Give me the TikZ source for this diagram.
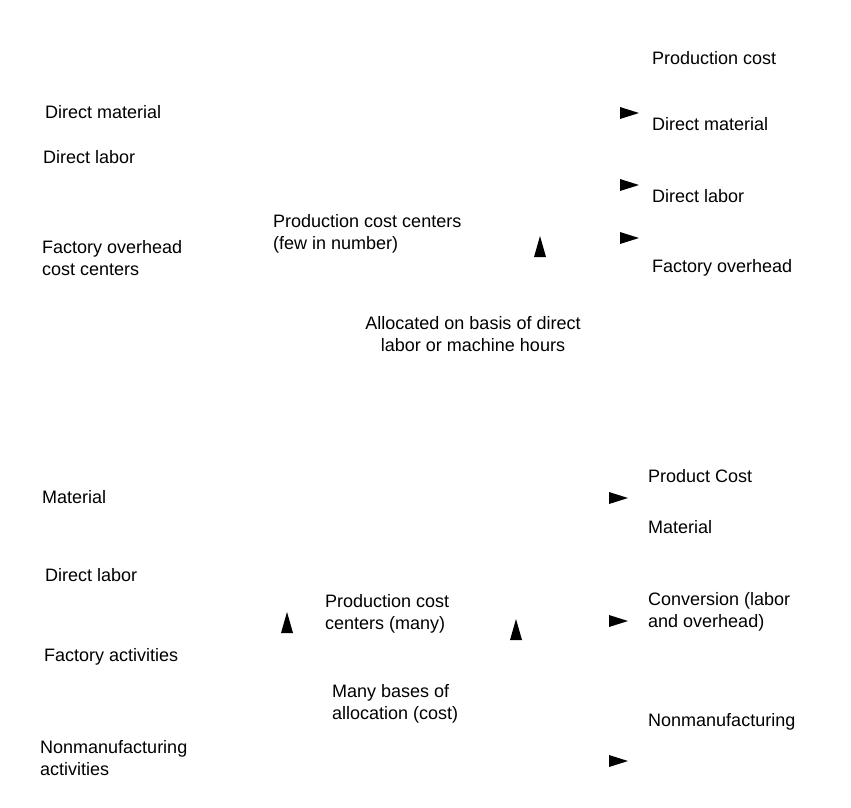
\documentclass[tikz,border=0pt]{standalone}
\usepackage{fontspec}
\setmainfont{Liberation Sans}
\usetikzlibrary{positioning}

\begin{document}
\begin{tikzpicture}
  [x=1pt,y=-1pt,every node/.style={inner sep=0pt,anchor=west,align=left,font=\fontsize{18}{22}\selectfont}]
  \useasboundingbox (0,0) rectangle (851,807);

  % upper chart
  \node (dm) at (45,112) {Direct material};
  \node (dl) at (43,157) {Direct labor};
  \node (fo) at (42,258) {Factory overhead\\cost centers};
  \node (pc) at (273,234) {Production cost centers\\(few in number)};
  \node[anchor=center,align=center] (al) at (473,334) {Allocated on basis of direct\\labor or machine hours};
  \node (pcost) at (652,58) {Production cost};
  \node (pdm) at (652,124) {Direct material};
  \node (pdl) at (652,196) {Direct labor};
  \node (pfo) at (652,268) {Factory overhead};

  % lower chart
  \node (ma) at (42,497) {Material};
  \node (dl2) at (45,575) {Direct labor};
  \node (fa) at (44,657) {Factory activities};
  \node (na) at (40,758) {Nonmanufacturing\\activities};
  \node (pcm) at (325,614) {Production cost\\centers (many)};
  \node (mb) at (332,704) {Many bases of\\allocation (cost)};
  \node (prc) at (648,476) {Product Cost};
  \node (pma) at (648,527) {Material};
  \node (pcv) at (648,612) {Conversion (labor\\and overhead)};
  \node (pnm) at (648,722) {Nonmanufacturing};

  % arrowheads
  \foreach \x/\y in {639/113, 639/185, 639/238, 628/498, 628/621, 628/761}
    \fill (\x,\y) -- ++(-19,-6) -- ++(0,12) -- cycle;
  \foreach \x/\y in {540/236, 287/612, 516/619}
    \fill (\x,\y) -- ++(-6,21) -- ++(12,0) -- cycle;

\end{tikzpicture}
\end{document}
